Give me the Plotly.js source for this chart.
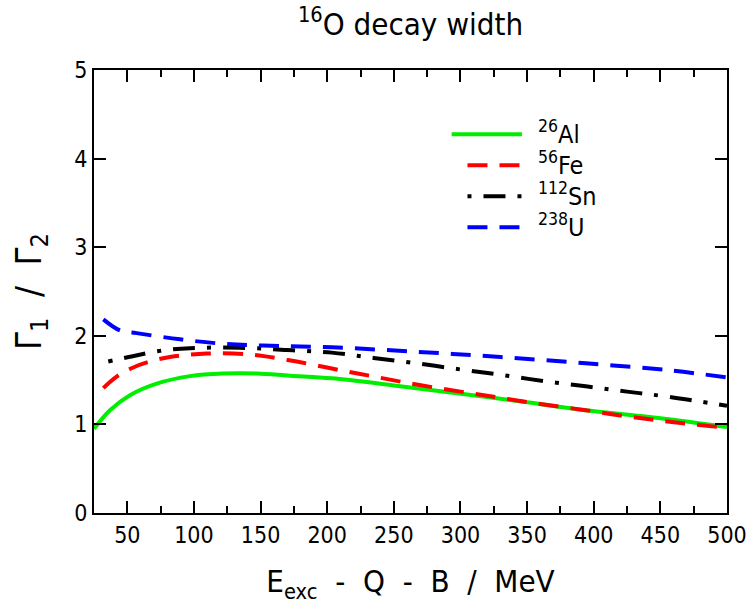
<!DOCTYPE html>
<html>
<head>
<meta charset="utf-8">
<script src="https://cdn.plot.ly/plotly-3.0.1.min.js"></script>
<style>html,body{margin:0;padding:0;background:#fff;}#chart{width:751px;height:605px;}</style>
</head>
<body>
<div id="chart"></div>
<script>
// Data
const alX = [25, 37, 52, 72, 97, 122, 147, 172, 203.5, 250, 299, 350, 394, 450, 500];
const alY = [0.95, 1.16, 1.33, 1.46, 1.545, 1.575, 1.575, 1.55, 1.52, 1.44, 1.35, 1.25, 1.16, 1.07, 0.97];

const feX = [32, 42, 54, 67, 82, 109.5, 142, 169.5, 203.5, 235, 267, 300, 330, 360, 394, 425, 457, 500];
const feY = [1.41, 1.54, 1.64, 1.71, 1.76, 1.80, 1.79, 1.73, 1.63, 1.54, 1.45, 1.37, 1.30, 1.23, 1.16, 1.09, 1.03, 0.96];

const snX = [35.7, 54, 74.5, 97, 134.5, 169.5, 203.5, 235, 267, 300, 330, 362, 394, 425, 457, 500];
const snY = [1.71, 1.77, 1.83, 1.86, 1.865, 1.84, 1.81, 1.75, 1.69, 1.62, 1.56, 1.49, 1.43, 1.37, 1.31, 1.21];

const uX = [32, 44.5, 57, 89.5, 122, 152, 203.5, 267, 330, 394, 457, 500];
const uY = [2.185, 2.06, 2.03, 1.96, 1.91, 1.89, 1.87, 1.82, 1.76, 1.69, 1.61, 1.53];

const seriesNames = ['<sup>26</sup>Al', '<sup>56</sup>Fe', '<sup>112</sup>Sn', '<sup>238</sup>U'];
const xTickVals = [50, 100, 150, 200, 250, 300, 350, 400, 450, 500];
const yTickVals = [0, 1, 2, 3, 4, 5];

const F = 'DejaVu Sans Condensed, Liberation Sans, sans-serif';
const colors = ['#00ee00', '#ff0000', '#000000', '#0000ff'];
const dashes = ['solid', '20px,12px', '4px,12px,22px,12px', '20px,12px'];

const xs = [alX, feX, snX, uX];
const ys = [alY, feY, snY, uY];

const traces = xs.map((x, i) => ({
  x: x, y: ys[i], type: 'scatter', mode: 'lines', showlegend: false, hoverinfo: 'skip',
  line: {color: colors[i], width: 4, dash: dashes[i], shape: 'spline', smoothing: 1}
}));

// manual legend (paper coordinates)
const shapes = [];
const annotations = [];
const legY = [0.855, 0.785, 0.715, 0.645];
const legX0 = [0.565, 0.59, 0.59, 0.59];
const legX1 = [0.676, 0.676, 0.676, 0.676];
seriesNames.forEach((n, i) => {
  shapes.push({type: 'line', xref: 'paper', yref: 'paper', x0: legX0[i], x1: legX1[i], y0: legY[i], y1: legY[i],
    line: {color: colors[i], width: 4, dash: dashes[i]}});
  annotations.push({xref: 'paper', yref: 'paper', x: 0.698, y: legY[i] + 0.004, xanchor: 'left', yanchor: 'middle',
    text: n, showarrow: false, font: {family: F, size: 25, color: '#000'}});
});

const ax = {
  tickvals: xTickVals, ticks: 'inside', ticklen: 12, tickwidth: 2, tickcolor: '#000', layer: 'above traces',
  showline: true, linecolor: '#000', linewidth: 2, mirror: 'ticks', showgrid: false, zeroline: false,
  tickfont: {family: F, size: 23, color: '#000'},
  title: {text: 'E<sub>exc</sub>  -  Q  -  B  /  MeV', font: {family: F, size: 31, color: '#000'}, standoff: 24},
  range: [25, 500],
  minor: {ticks: 'inside', ticklen: 7, tickwidth: 2, tickcolor: '#000', dtick: 25, tick0: 0, showgrid: false}
};
const ay = {
  tickvals: yTickVals, ticks: 'inside', ticklen: 12, tickwidth: 2, tickcolor: '#000', layer: 'above traces',
  showline: true, linecolor: '#000', linewidth: 2, mirror: 'ticks', showgrid: false, zeroline: false,
  tickfont: {family: F, size: 23, color: '#000'},
  title: {text: 'Γ<sub>1</sub>  /  Γ<sub>2</sub>', font: {family: F, size: 36, color: '#000'}, standoff: 22},
  range: [0, 5]
};
const layout = {
  width: 751, height: 605, margin: {l: 94, r: 24, t: 70, b: 92},
  paper_bgcolor: '#fff', plot_bgcolor: '#fff', font: {family: F, color: '#000'},
  title: {text: '<sup>16</sup>O decay width', font: {family: F, size: 31, color: '#000'}, xref: 'paper', x: 0.5, y: 0.96, yanchor: 'middle'},
  xaxis: ax, yaxis: ay, showlegend: false, shapes: shapes, annotations: annotations
};

Plotly.newPlot('chart', traces, layout, {displayModeBar: false, staticPlot: true});
</script>
</body>
</html>
